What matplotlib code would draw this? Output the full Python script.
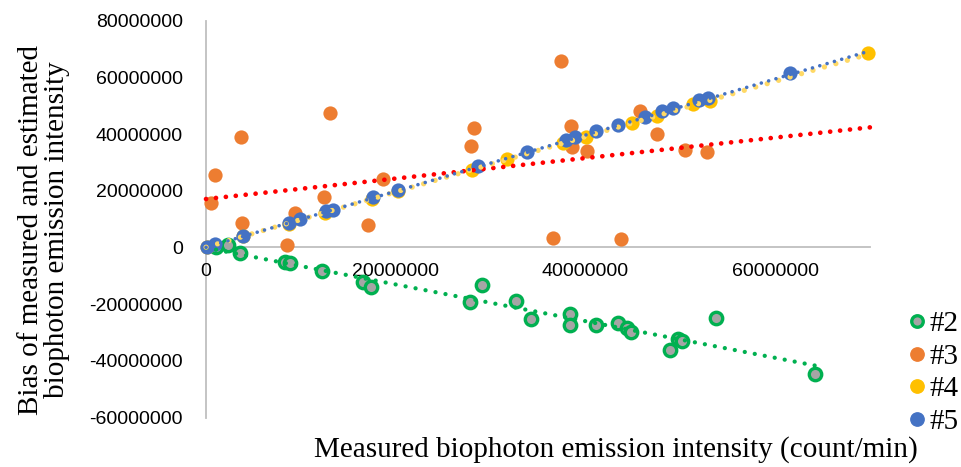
"""Bias vs measured biophoton emission intensity, four samples with linear trendlines."""

import matplotlib

matplotlib.use("Agg")
import matplotlib.pyplot as plt
import numpy as np
from matplotlib.lines import Line2D

# all values in millions of counts/min
s2_x = [1.0, 2.3, 3.6, 8.3, 8.8, 12.2, 16.5, 17.4, 27.8, 29.1, 32.7, 34.3, 38.4, 38.4,
        41.1, 43.4, 44.4, 44.8, 48.9, 49.8, 50.2, 53.8, 64.2]
s2_y = [0.2, 1.0, -2.1, -5.2, -5.6, -8.4, -12.2, -14.0, -19.2, -13.3, -18.9, -25.2, -23.4,
        -27.3, -27.3, -26.6, -28.3, -29.7, -36.0, -32.2, -32.9, -24.8, -44.8]

s3_x = [0.5, 0.95, 3.7, 3.8, 8.5, 9.4, 12.4, 13.1, 17.1, 18.7, 27.9, 28.2, 36.6, 37.4,
        38.5, 38.6, 40.2, 43.7, 45.7, 47.5, 50.5, 52.8]
s3_y = [15.8, 25.7, 39.1, 8.8, 1.0, 12.0, 17.9, 47.5, 7.8, 24.3, 35.9, 42.3, 3.5, 65.8,
        43.0, 35.5, 34.1, 3.1, 48.2, 40.1, 34.5, 33.8]

s4_x = [0.1, 3.9, 8.7, 12.5, 17.5, 20.2, 28.0, 31.7, 37.6, 40.1, 44.9, 47.5, 51.3, 53.1, 69.8]
s4_y = [0.2, 3.9, 8.4, 12.2, 17.1, 19.9, 27.5, 31.3, 36.9, 39.0, 44.0, 46.5, 50.7, 51.7, 68.6]

s5_x = [0.1, 0.9, 3.9, 8.7, 9.9, 12.6, 13.4, 17.6, 20.2, 28.7, 33.8, 38.0, 38.9, 41.1,
        43.4, 46.3, 48.1, 49.2, 52.0, 52.9, 61.6]
s5_y = [0.3, 1.4, 4.2, 8.7, 10.1, 12.7, 13.4, 17.9, 20.4, 28.9, 33.8, 38.0, 39.0, 41.2,
        43.3, 46.1, 48.2, 49.3, 52.1, 52.8, 61.6]

labels = ["#2", "#3", "#4", "#5"]

# linear trendlines: slope, intercept (millions), x range (millions)
trend_slope = [-0.647, 0.361, 0.975, 0.99]
trend_icpt = [-0.1, 17.1, 0.1, 0.05]
trend_x0 = [0.0, 0.0, 0.0, 0.0]
trend_x1 = [64.2, 70.0, 69.8, 69.4]

xticks = [0, 20, 40, 60]
yticks = [-60, -40, -20, 0, 20, 40, 60, 80]

GREEN = "#00b050"
GRAY = "#a5a5a5"
ORANGE = "#ed7d31"
YELLOW = "#ffc000"
BLUE = "#4472c4"
RED = "#ff0000"
PALE_YELLOW = "#ffd966"

M = 1e6

fig = plt.figure(figsize=(9.61, 4.67), dpi=100)
ax = fig.add_axes([0.2144, 0.1058, 0.9053 - 0.2144, 0.9557 - 0.1058])

ax.scatter(np.array(s2_x) * M, np.array(s2_y) * M, s=80, facecolor=GRAY,
           edgecolor=GREEN, linewidth=2.4, zorder=3, clip_on=False)
ax.scatter(np.array(s3_x) * M, np.array(s3_y) * M, s=105, color=ORANGE,
           linewidth=0, zorder=4, clip_on=False)
ax.scatter(np.array(s4_x) * M, np.array(s4_y) * M, s=105, color=YELLOW,
           linewidth=0, zorder=5, clip_on=False)
ax.scatter(np.array(s5_x) * M, np.array(s5_y) * M, s=105, color=BLUE,
           linewidth=0, zorder=6, clip_on=False)

# (color, linewidth pt, dot period / linewidth)
trend_style = [(GREEN, 3.1, 2.35), (RED, 3.4, 2.1), (PALE_YELLOW, 3.8, 2.25), (BLUE, 2.6, 2.1)]
for k, (col, lw, per) in enumerate(trend_style):
    tx = np.array([trend_x0[k], trend_x1[k]])
    ty = trend_slope[k] * tx + trend_icpt[k]
    ax.plot(tx * M, ty * M, color=col, linewidth=lw, linestyle=(0, (0.01, per)),
            dash_capstyle="round", zorder=7 + k, clip_on=False)

ax.set_xlim(0, 70 * M)
ax.set_ylim(-60 * M, 80 * M)
ax.set_xticks([v * M for v in xticks])
ax.set_xticklabels([str(int(v * M)) for v in xticks])
ax.set_yticks([v * M for v in yticks])
ax.set_yticklabels([str(int(v * M)) for v in yticks])

for side in ["top", "right"]:
    ax.spines[side].set_visible(False)
ax.spines["left"].set_position(("data", 0))
ax.spines["bottom"].set_position(("data", 0))
for side in ["left", "bottom"]:
    ax.spines[side].set_color("#bfbfbf")
    ax.spines[side].set_linewidth(1.3)
    ax.spines[side].set_zorder(1)

ax.tick_params(axis="both", length=0, labelsize=14, colors="black")
ax.tick_params(axis="x", pad=11)
ax.tick_params(axis="y", pad=16.5)
for lab in ax.get_xticklabels() + ax.get_yticklabels():
    lab.set_fontfamily("Liberation Sans")
    lab.set_zorder(2)

fig.text(0.046, 1 - 230 / 467, "Bias of measured and estimated\nbiophoton emission intensity",
         rotation=90, ha="center", va="center", multialignment="center",
         family="Liberation Serif", size=21, linespacing=1.0)
fig.text(616 / 961, 1 - 450 / 467, "Measured biophoton emission intensity (count/min)",
         ha="center", va="center", family="Liberation Serif", size=21)

handles = [
    Line2D([], [], linestyle="none", marker="o", markersize=8.3, markerfacecolor=GRAY,
           markeredgecolor=GREEN, markeredgewidth=2.4),
    Line2D([], [], linestyle="none", marker="o", markersize=9.6, color=ORANGE),
    Line2D([], [], linestyle="none", marker="o", markersize=9.6, color=YELLOW),
    Line2D([], [], linestyle="none", marker="o", markersize=9.6, color=BLUE),
]
fig.legend(handles, labels, loc="center left", bbox_to_anchor=(0.945, 1 - 373 / 467),
           frameon=False, prop={"family": "Liberation Serif", "size": 21},
           handlelength=0.6, handletextpad=0.14, labelspacing=0.21, borderpad=0,
           borderaxespad=0)

fig.savefig("out.png", dpi=100)
